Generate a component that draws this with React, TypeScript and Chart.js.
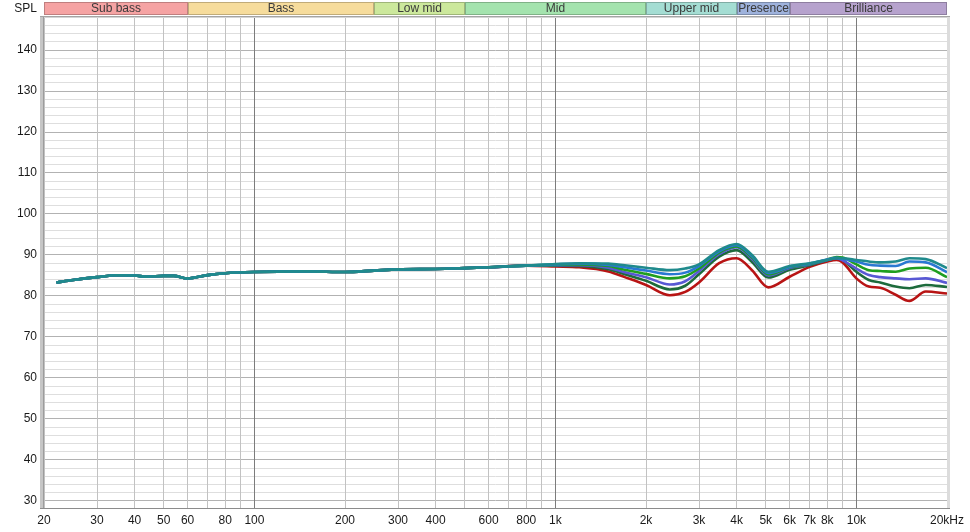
import React, { useEffect, useRef } from "react";
import { Chart, registerables } from "chart.js";

Chart.register(...registerables);

// Shared part of all six curves (they overlap below ~1 kHz)
const FREQ_LOW = [22, 25, 30, 35, 40, 44, 50, 54, 60, 70, 80, 100, 150, 200, 250, 300, 400, 500, 600, 800];
const DB_LOW = [83.3, 83.9, 84.6, 85.05, 85.0, 84.7, 84.9, 84.9, 84.3, 85.1, 85.55, 85.85, 86.0, 85.85, 86.2, 86.5, 86.6, 86.8, 87.0, 87.4];

// Upper part where the curves split
const FREQ_HIGH = [1000, 1200, 1500, 1700, 2000, 2400, 2700, 3000, 3500, 4000, 4500, 5100, 6000, 7000, 8000, 8600, 9000, 10000, 11000, 12000, 13500, 15000, 17000, 20000];
const TEAL = [87.8, 88.0, 87.9, 87.5, 86.9, 86.3, 86.7, 87.7, 91.2, 92.7, 90.0, 85.9, 87.3, 88.0, 88.8, 89.2, 89.2, 88.8, 88.4, 88.2, 88.4, 89.2, 89.0, 86.8];
const BLUE = [87.7, 87.9, 87.6, 87.0, 86.2, 85.3, 85.7, 87.3, 90.9, 92.4, 89.7, 85.6, 87.1, 87.9, 88.9, 89.3, 89.1, 88.4, 87.6, 87.4, 87.3, 88.4, 88.2, 85.8];
const GREEN = [87.6, 87.7, 87.3, 86.4, 85.4, 84.3, 84.8, 86.7, 90.6, 92.1, 89.4, 85.3, 87.0, 87.8, 88.9, 89.5, 89.4, 87.7, 86.3, 86.1, 85.9, 86.7, 86.9, 84.6];
const VIOLET = [87.5, 87.5, 86.9, 85.8, 84.6, 82.8, 83.6, 86.1, 90.2, 91.9, 89.0, 85.0, 86.8, 87.7, 88.8, 89.2, 88.7, 86.7, 85.1, 84.6, 84.3, 84.1, 84.3, 83.2];
const DARK_GREEN = [87.4, 87.3, 86.5, 85.3, 83.7, 81.6, 82.5, 85.3, 89.6, 91.2, 88.3, 84.5, 86.4, 87.5, 88.7, 89.2, 88.8, 85.9, 83.9, 83.3, 82.3, 81.9, 82.7, 82.2];
const RED = [87.2, 87.0, 86.0, 84.6, 82.7, 80.2, 81.0, 83.3, 88.0, 89.2, 86.3, 82.1, 84.7, 87.1, 88.4, 88.8, 88.2, 84.3, 82.3, 82.0, 80.3, 78.8, 81.1, 80.6];

const SERIES = [TEAL, BLUE, GREEN, VIOLET, DARK_GREEN, RED];
const SERIES_COLORS = ["#1f8a8c", "#2a78d2", "#1f9e1f", "#5858d4", "#1d6b3c", "#b81414"];

const X_TICKS = [20, 30, 40, 50, 60, 70, 80, 90, 100, 200, 300, 400, 500, 600, 700, 800, 900, 1000, 2000, 3000, 4000, 5000, 6000, 7000, 8000, 9000, 10000, 20000];
const X_LABELS: Record<number, string> = {
  20: "20", 30: "30", 40: "40", 50: "50", 60: "60", 80: "80", 100: "100", 200: "200", 300: "300", 400: "400",
  600: "600", 800: "800", 1000: "1k", 2000: "2k", 3000: "3k", 4000: "4k", 5000: "5k", 6000: "6k", 7000: "7k",
  8000: "8k", 10000: "10k", 20000: "20kHz",
};
const X_DECADES = [100, 1000, 10000];

const Y_LABELS = [30, 40, 50, 60, 70, 80, 90, 100, 110, 120, 130, 140];

const BAND_NAMES = ["Sub bass", "Bass", "Low mid", "Mid", "Upper mid", "Presence", "Brilliance"];
const BAND_EDGES = [20, 60, 250, 500, 2000, 4000, 6000, 20000];
const BAND_COLORS = ["#f5a3a3", "#f6dc9c", "#cce89c", "#a4e3ae", "#a4ddd3", "#9eb2dc", "#b6a2cd"];

const FONT = "'Liberation Sans', Arial, sans-serif";

export default function App() {
  const ref = useRef<HTMLCanvasElement | null>(null);

  useEffect(() => {
    if (!ref.current) return;

    const yGrid: number[] = [];
    for (let v = 30; v <= 148; v += 2) yGrid.push(v);

    const datasets = SERIES.map((arr, i) => ({
      label: "s" + i,
      data: FREQ_LOW.map((f, k) => ({ x: f, y: DB_LOW[k] })).concat(
        FREQ_HIGH.map((f, k) => ({ x: f, y: arr[k] }))
      ),
      borderColor: SERIES_COLORS[i],
      borderWidth: 2.6,
      pointRadius: 0,
      cubicInterpolationMode: "monotone" as const,
      fill: false,
    }));

    const decor = {
      id: "decor",
      beforeDatasetsDraw(chart: any) {
        const { ctx, chartArea } = chart;
        const { left, right, top, bottom } = chartArea;
        const xs = chart.scales.x;
        ctx.save();
        // decade lines on top of the grid
        ctx.fillStyle = "#7c7c7c";
        for (const d of X_DECADES) {
          const px = Math.round(xs.getPixelForValue(d));
          ctx.fillRect(px, top, 1, bottom - top);
        }
        // frame
        ctx.fillStyle = "#c6c6c6";
        ctx.fillRect(left - 4, top, 4, bottom - top + 1);
        ctx.fillStyle = "#9c9c9c";
        ctx.fillRect(left - 1, top, 1, bottom - top + 1);
        ctx.fillStyle = "#dcdcdc";
        ctx.fillRect(right, top, 3, bottom - top + 1);
        ctx.fillStyle = "#a4a4a4";
        ctx.fillRect(left - 4, top - 1, right - left + 7, 1);
        ctx.fillStyle = "#d4d4d4";
        ctx.fillRect(left, top, right - left, 1);
        ctx.fillStyle = "#8c8c8c";
        ctx.fillRect(left - 4, bottom, right - left + 7, 1);
        ctx.restore();
      },
      afterDraw(chart: any) {
        const { ctx, chartArea } = chart;
        const xs = chart.scales.x;
        ctx.save();
        ctx.font = `12px ${FONT}`;
        ctx.textBaseline = "middle";
        for (let i = 0; i < BAND_NAMES.length; i++) {
          const x1 = Math.round(xs.getPixelForValue(BAND_EDGES[i]));
          const x2 = Math.round(xs.getPixelForValue(BAND_EDGES[i + 1]));
          const y1 = 2;
          const h = 13;
          ctx.fillStyle = BAND_COLORS[i];
          ctx.fillRect(x1, y1, x2 - x1, h);
          ctx.strokeStyle = "rgba(0,0,0,0.22)";
          ctx.lineWidth = 1;
          ctx.strokeRect(x1 + 0.5, y1 + 0.5, x2 - x1 - 1, h - 1);
          ctx.save();
          ctx.beginPath();
          ctx.rect(x1, y1, x2 - x1 - 1, h);
          ctx.clip();
          ctx.fillStyle = "#3a3a3a";
          ctx.textAlign = "center";
          ctx.fillText(BAND_NAMES[i], (x1 + x2) / 2, y1 + h / 2 + 0.5);
          ctx.restore();
        }
        ctx.fillStyle = "#1a1a1a";
        ctx.textAlign = "right";
        ctx.fillText("SPL", chartArea.left - 7, 9);
        ctx.restore();
      },
    };

    const chart = new Chart(ref.current, {
      type: "line",
      data: { datasets },
      options: {
        animation: false,
        responsive: true,
        maintainAspectRatio: false,
        layout: { padding: { top: 17, left: 0, right: 23, bottom: 0 } },
        plugins: { legend: { display: false }, tooltip: { enabled: false } },
        scales: {
          x: {
            type: "logarithmic",
            min: 20,
            max: 20000,
            afterBuildTicks: (s: any) => {
              s.ticks = X_TICKS.map((v) => ({ value: v }));
            },
            afterFit: (s: any) => {
              s.height = 24;
            },
            border: { display: false },
            grid: {
              z: 0,
              drawTicks: false,
              lineWidth: 1,
              color: (c: any) =>
                X_DECADES.includes(c.tick?.value) ? "#7c7c7c" : "#c2c2c2",
            },
            ticks: {
              autoSkip: false,
              maxRotation: 0,
              minRotation: 0,
              padding: 5,
              color: "#1a1a1a",
              font: { family: FONT, size: 12 },
              callback: (v: any) => X_LABELS[Number(v)] ?? "",
            },
          },
          y: {
            type: "linear",
            min: 28.29,
            max: 148.05,
            afterBuildTicks: (s: any) => {
              s.ticks = yGrid.map((v) => ({ value: v }));
            },
            afterFit: (s: any) => {
              s.width = 44;
            },
            border: { display: false },
            grid: {
              z: -1,
              drawTicks: false,
              lineWidth: 1,
              color: (c: any) =>
                c.tick && c.tick.value % 10 === 0 ? "#b2b2b2" : "#dedede",
            },
            ticks: {
              autoSkip: false,
              padding: 7,
              color: "#1a1a1a",
              font: { family: FONT, size: 12 },
              callback: (v: any) => (Y_LABELS.includes(Number(v)) ? String(v) : ""),
            },
          },
        },
      },
      plugins: [decor],
    } as any);

    return () => chart.destroy();
  }, []);

  return (
    <div style={{ position: "fixed", left: 0, top: 0, width: 970, height: 532, background: "#fff" }}>
      <canvas ref={ref} />
    </div>
  );
}
